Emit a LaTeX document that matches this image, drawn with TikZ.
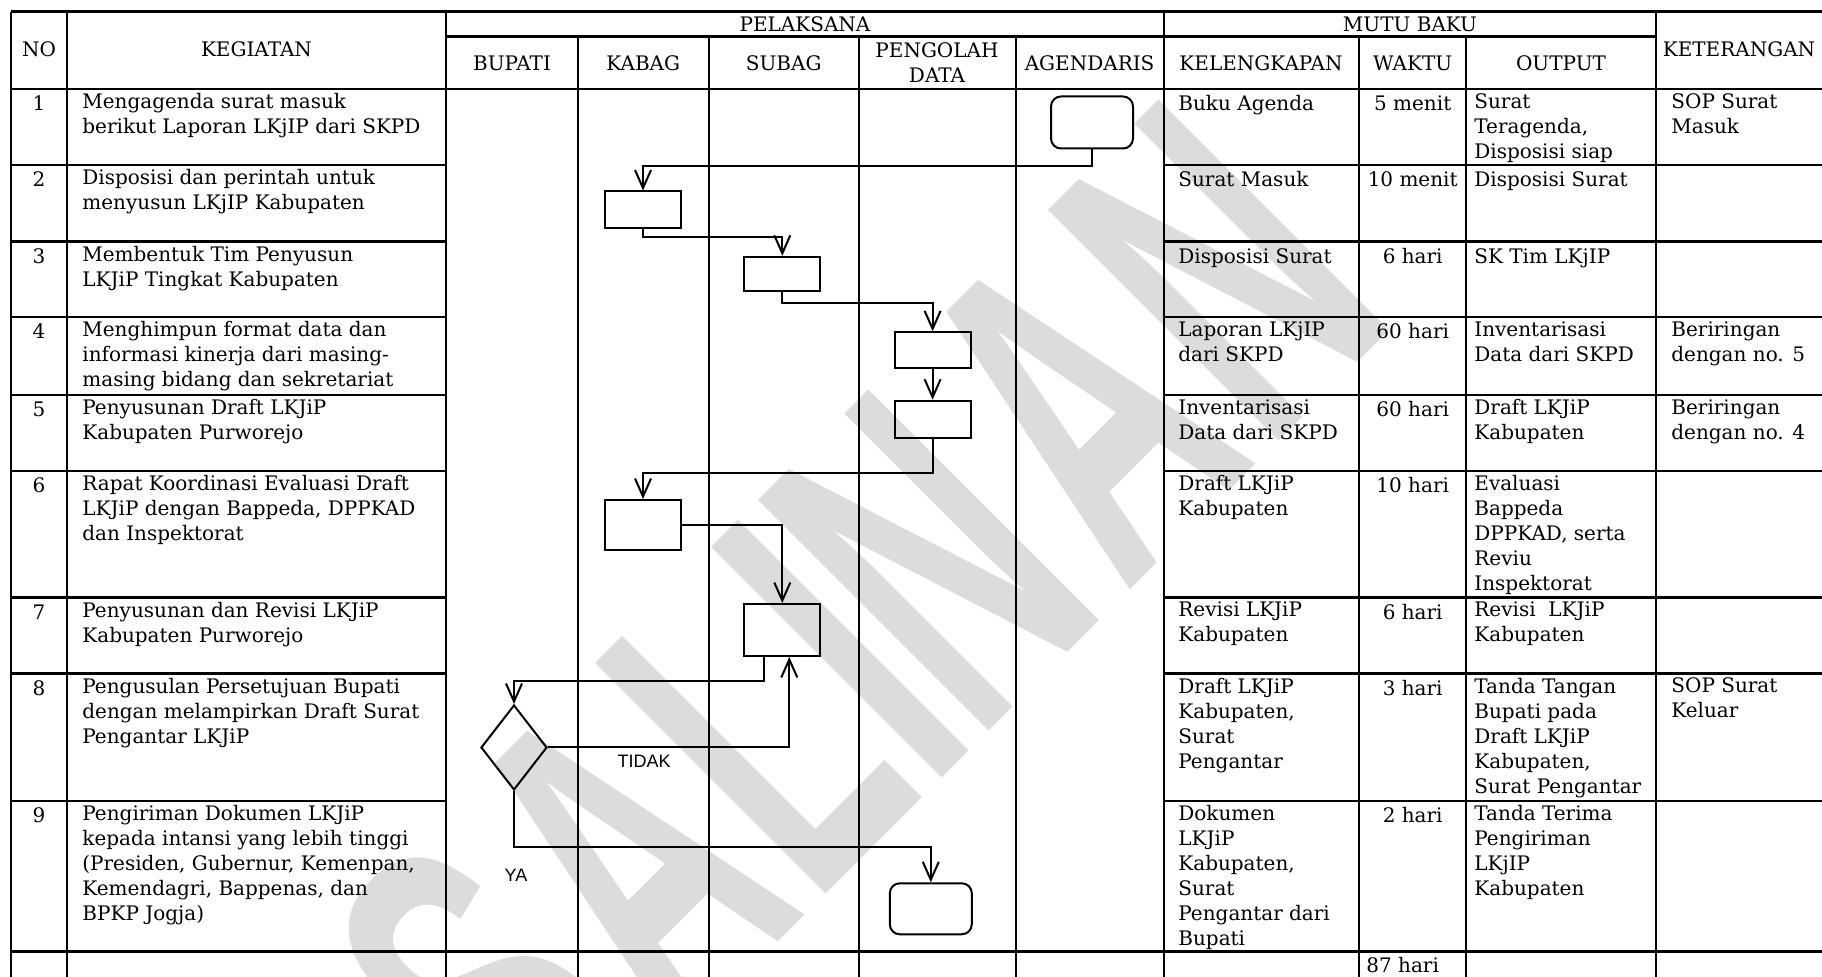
\documentclass[tikz,border=0pt]{standalone}
\usepackage{fontspec}
\setmainfont{DejaVu Serif}
\newfontfamily\lsans{Liberation Sans}
\usetikzlibrary{arrows.meta,shapes.geometric,calc}
\definecolor{wmgray}{RGB}{220,220,220}
\newcommand{\tabfont}{\fontsize{10}{12.5}\selectfont}
\newcommand{\wmfont}{\lsans\bfseries\fontsize{237}{240}\selectfont}
\newcommand{\wml}[1]{\scalebox{0.56}[1]{#1}}
\tikzset{
  hline/.style={line width=1.25pt},
  vline/.style={line width=1pt},
  txt/.style={anchor=north west, inner sep=0pt, align=left, font=\tabfont, execute at begin node=\strut},
  ctxt/.style={anchor=north, inner sep=0pt, align=center, font=\tabfont, execute at begin node=\strut},
  hdr/.style={inner sep=0pt, align=center, font=\tabfont},
  proc/.style={draw, line width=1pt, rectangle, inner sep=0pt},
  term/.style={draw, line width=1pt, rectangle, rounded corners=5pt, inner sep=0pt},
  dec/.style={draw, line width=1pt, diamond, inner sep=0pt},
  conn/.style={line width=1pt, -{Straight Barb[length=9pt,width=8pt]}},
  lbl/.style={font=\lsans\fontsize{9}{10}\selectfont, inner sep=0pt},
  wmletter/.style={rotate=45, anchor=base west, text=wmgray, inner sep=0pt, font=\wmfont},
}
\begin{document}
\begin{tikzpicture}[x=0.5pt,y=-0.5pt]
\useasboundingbox (0,0) rectangle (1822,977);
\fill[white] (0,0) rectangle (1822,977);
% watermark
\begin{scope}
\clip (0,89) rectangle (1822,977);
\node[wmletter] (wm1) at (541.8,1178.2) {\wml{S}};
\node[wmletter] (wm2) at (674.7,1045.3) {\wml{A}};
\node[wmletter] (wm3) at (813.3,906.7) {\wml{L}};
\node[wmletter] (wm4) at (929.3,790.7) {\wml{I}};
\node[wmletter] (wm5) at (976.7,743.3) {\wml{N}};
\node[wmletter] (wm6) at (1125.2,594.8) {\wml{A}};
\node[wmletter] (wm7) at (1266.6,453.4) {\wml{N}};
\end{scope}
% table horizontal lines
\draw[hline] (11,11.7) -- (1822,11.7);
\draw[hline] (446,36.7) -- (1656,36.7);
\draw[hline] (11,89) -- (1822,89);
\foreach \yy in {165,241.7,317,395,471,597.5,673.5,801}{
  \draw[hline] (11,\yy) -- (446,\yy);
  \draw[hline] (1163.7,\yy) -- (1822,\yy);
}
\draw[hline] (11,951.7) -- (1822,951.7);
% table vertical lines
\foreach \xx in {11,67,446,1163.7,1656}{\draw[vline] (\xx,11.7) -- (\xx,977);}
\foreach \xx in {578,708.6,858.9,1015.6,1359,1466.4}{\draw[vline] (\xx,36.7) -- (\xx,977);}
% headers
\node[hdr] (hno) at (39,49) {NO};
\node[hdr] (hkeg) at (256.5,49) {KEGIATAN};
\node[hdr] (hpel) at (805,24) {PELAKSANA};
\node[hdr] (hmutu) at (1410,24) {MUTU BAKU};
\node[hdr] (hbup) at (512,63) {BUPATI};
\node[hdr] (hkab) at (643.3,63) {KABAG};
\node[hdr] (hsub) at (783.7,63) {SUBAG};
\node[hdr] (hpeng) at (937,63) {PENGOLAH\\DATA};
\node[hdr] (hagen) at (1089.6,63) {AGENDARIS};
\node[hdr] (hkel) at (1261,63) {KELENGKAPAN};
\node[hdr] (hwak) at (1412.7,63) {WAKTU};
\node[hdr] (hout) at (1561,63) {OUTPUT};
\node[hdr] (hket) at (1739,49) {KETERANGAN};
% row 1
\node[ctxt] (n1) at (39,93) {1};
\node[txt] (g1) at (82,93) {Mengagenda surat masuk\\berikut Laporan LKjIP dari SKPD};
\node[txt] (l1) at (1178,93) {Buku Agenda};
\node[ctxt] (w1) at (1412.7,93) {5 menit};
\node[txt] (o1) at (1474,93) {Surat\\Teragenda,\\Disposisi siap};
\node[txt] (c1) at (1671,93) {SOP Surat\\Masuk};
% row 2
\node[ctxt] (n2) at (39,169) {2};
\node[txt] (g2) at (82,169) {Disposisi dan perintah untuk\\menyusun LKjIP Kabupaten};
\node[txt] (l2) at (1178,169) {Surat Masuk};
\node[ctxt] (w2) at (1412.7,169) {10 menit};
\node[txt] (o2) at (1474,169) {Disposisi Surat};
% row 3
\node[ctxt] (n3) at (39,245.7) {3};
\node[txt] (g3) at (82,245.7) {Membentuk Tim Penyusun\\LKJiP Tingkat Kabupaten};
\node[txt] (l3) at (1178,245.7) {Disposisi Surat};
\node[ctxt] (w3) at (1412.7,245.7) {6 hari};
\node[txt] (o3) at (1474,245.7) {SK Tim LKjIP};
% row 4
\node[ctxt] (n4) at (39,321) {4};
\node[txt] (g4) at (82,321) {Menghimpun format data dan\\informasi kinerja dari masing-\\masing bidang dan sekretariat};
\node[txt] (l4) at (1178,321) {Laporan LKjIP\\dari SKPD};
\node[ctxt] (w4) at (1412.7,321) {60 hari};
\node[txt] (o4) at (1474,321) {Inventarisasi\\Data dari SKPD};
\node[txt] (c4) at (1671,321) {Beriringan\\dengan no. 5};
% row 5
\node[ctxt] (n5) at (39,399) {5};
\node[txt] (g5) at (82,399) {Penyusunan Draft LKJiP\\Kabupaten Purworejo};
\node[txt] (l5) at (1178,399) {Inventarisasi\\Data dari SKPD};
\node[ctxt] (w5) at (1412.7,399) {60 hari};
\node[txt] (o5) at (1474,399) {Draft LKJiP\\Kabupaten};
\node[txt] (c5) at (1671,399) {Beriringan\\dengan no. 4};
% row 6
\node[ctxt] (n6) at (39,475) {6};
\node[txt] (g6) at (82,475) {Rapat Koordinasi Evaluasi Draft\\LKJiP dengan Bappeda, DPPKAD\\dan Inspektorat};
\node[txt] (l6) at (1178,475) {Draft LKJiP\\Kabupaten};
\node[ctxt] (w6) at (1412.7,475) {10 hari};
\node[txt] (o6) at (1474,475) {Evaluasi\\Bappeda\\DPPKAD, serta\\Reviu\\Inspektorat};
% row 7
\node[ctxt] (n7) at (39,601.5) {7};
\node[txt] (g7) at (82,601.5) {Penyusunan dan Revisi LKJiP\\Kabupaten Purworejo};
\node[txt] (l7) at (1178,601.5) {Revisi LKJiP\\Kabupaten};
\node[ctxt] (w7) at (1412.7,601.5) {6 hari};
\node[txt] (o7) at (1474,601.5) {Revisi\ \ LKJiP\\Kabupaten};
% row 8
\node[ctxt] (n8) at (39,677.5) {8};
\node[txt] (g8) at (82,677.5) {Pengusulan Persetujuan Bupati\\dengan melampirkan Draft Surat\\Pengantar LKJiP};
\node[txt] (l8) at (1178,677.5) {Draft LKJiP\\Kabupaten,\\Surat\\Pengantar};
\node[ctxt] (w8) at (1412.7,677.5) {3 hari};
\node[txt] (o8) at (1474,677.5) {Tanda Tangan\\Bupati pada\\Draft LKJiP\\Kabupaten,\\Surat Pengantar};
\node[txt] (c8) at (1671,677.5) {SOP Surat\\Keluar};
% row 9
\node[ctxt] (n9) at (39,805) {9};
\node[txt] (g9) at (82,805) {Pengiriman Dokumen LKJiP\\kepada intansi yang lebih tinggi\\(Presiden, Gubernur, Kemenpan,\\Kemendagri, Bappenas, dan\\BPKP Jogja)};
\node[txt] (l9) at (1178,805) {Dokumen\\LKJiP\\Kabupaten,\\Surat\\Pengantar dari\\Bupati};
\node[ctxt] (w9) at (1412.7,805) {2 hari};
\node[txt] (o9) at (1474,805) {Tanda Terima\\Pengiriman\\LKjIP\\Kabupaten};
% total
\node[txt] (wt) at (1366,954.7) {87 hari};
% flowchart shapes
\node[term, minimum width=41pt, minimum height=26pt] (ag) at (1092,122.5) {};
\node[proc, minimum width=38pt, minimum height=18.5pt] (k1) at (643,210) {};
\node[proc, minimum width=38pt, minimum height=17pt] (s1) at (782.3,273.8) {};
\node[proc, minimum width=38pt, minimum height=18pt] (p1) at (932.6,350.3) {};
\node[proc, minimum width=38pt, minimum height=18.5pt] (p2) at (932.6,419.2) {};
\node[proc, minimum width=38pt, minimum height=25pt] (k2) at (643,525) {};
\node[proc, minimum width=38pt, minimum height=26pt] (s2) at (782.3,630) {};
\node[dec, minimum width=33pt, minimum height=42.5pt] (d) at (514,747.5) {};
\node[term, minimum width=41pt, minimum height=25.5pt] (e) at (930.8,908.8) {};
% connector levels
\coordinate (y1) at (0,165.7);
\coordinate (y2) at (0,237.3);
\coordinate (y3) at (0,303.3);
\coordinate (y5) at (0,473);
\coordinate (y7) at (0,681);
\coordinate (y9) at (0,846.7);
\coordinate (s2out) at ($(s2.south)+(-18,0)$);
\coordinate (s2in) at ($(s2.south)+(7,0)$);
% connectors
\draw[conn] (ag.south) -- (ag.south |- y1) -| (k1.north);
\draw[conn] (k1.south) -- (k1.south |- y2) -| (s1.north);
\draw[conn] (s1.south) -- (s1.south |- y3) -| (p1.north);
\draw[conn] (p1.south) -- (p2.north);
\draw[conn] (p2.south) -- (p2.south |- y5) -| (k2.north);
\draw[conn] (k2.east) -| (s2.north);
\draw[conn] (s2out) -- (s2out |- y7) -| (d.north);
\draw[conn] (d.east) -| (s2in);
\draw[conn] (d.south) -- (d.south |- y9) -| (e.north);
% labels
\node[lbl] (tidak) at (644,761.7) {TIDAK};
\node[lbl] (ya) at (516,875) {YA};
\end{tikzpicture}
\end{document}
